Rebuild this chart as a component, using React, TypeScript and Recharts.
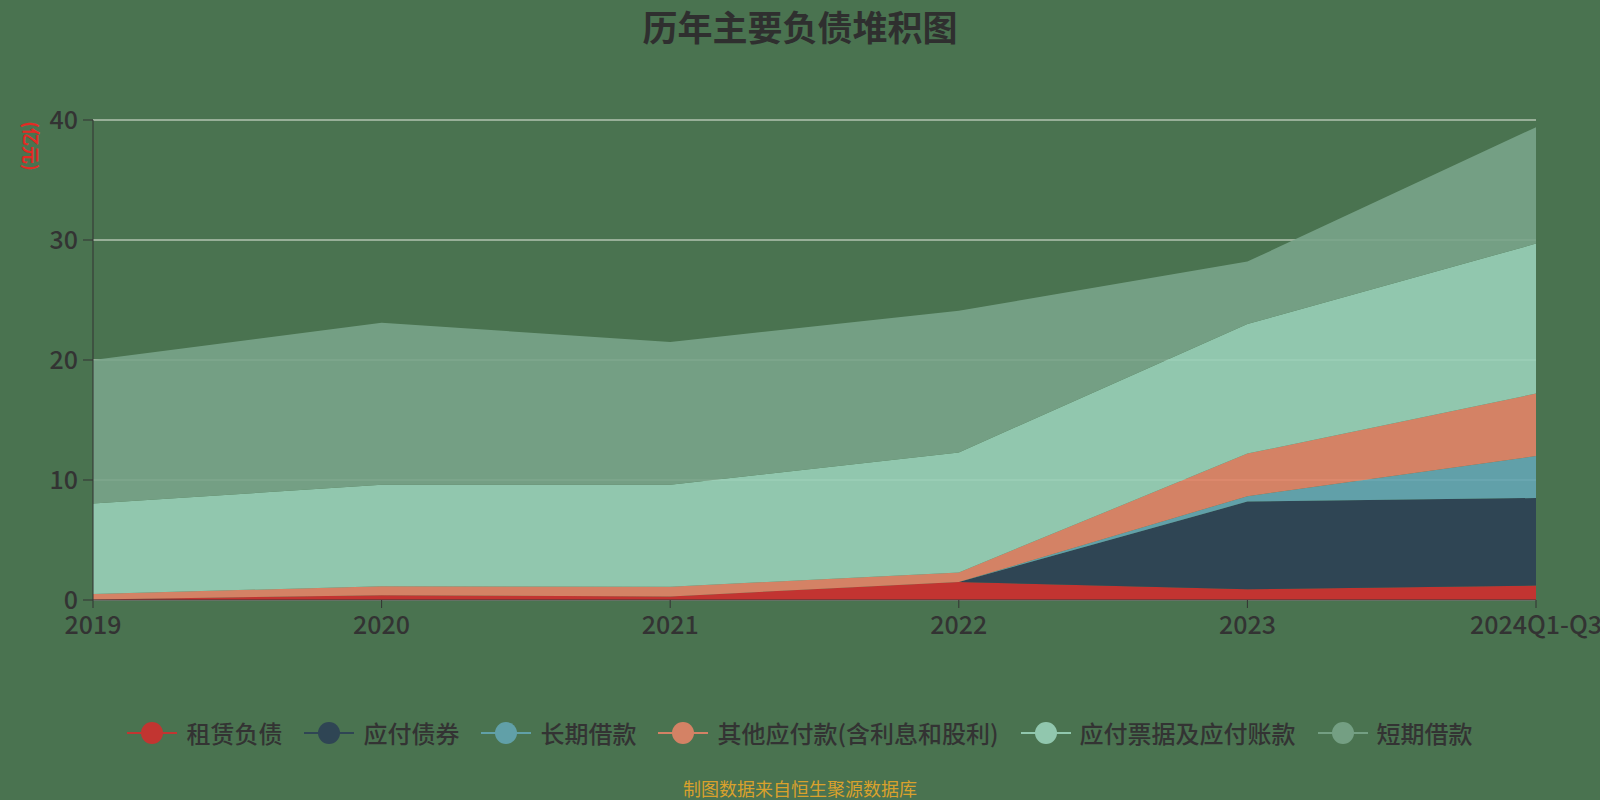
import React from 'react';
import { AreaChart, Area, XAxis, YAxis, CartesianGrid } from 'recharts';

// 单位：亿元
const years = ['2019', '2020', '2021', '2022', '2023', '2024Q1-Q3'];
const leaseLiabilities = [0.05, 0.4, 0.3, 1.5, 0.9, 1.2];
const bondsPayable = [0, 0, 0, 0, 7.3, 7.3];
const longTermLoans = [0, 0, 0, 0, 0.45, 3.5];
const otherPayables = [0.45, 0.75, 0.8, 0.8, 3.55, 5.2];
const notesAndAccountsPayable = [7.55, 8.45, 8.5, 10.0, 10.8, 12.5];
const shortTermLoans = [11.95, 13.5, 11.9, 11.8, 5.2, 9.7];
const yTicks = [0, 10, 20, 30, 40];

const series = [
  { key: 'lease', name: '租赁负债', values: leaseLiabilities, color: '#c23531', fill: '#cf2e2e' },
  { key: 'bonds', name: '应付债券', values: bondsPayable, color: '#2f4554', fill: '#2c4054' },
  { key: 'longLoan', name: '长期借款', values: longTermLoans, color: '#61a0a8', fill: '#64a5b2' },
  { key: 'other', name: '其他应付款(含利息和股利)', values: otherPayables, color: '#d48265', fill: '#e38467' },
  { key: 'notes', name: '应付票据及应付账款', values: notesAndAccountsPayable, color: '#91c7ae', fill: '#99d0b8' },
  { key: 'shortLoan', name: '短期借款', values: shortTermLoans, color: '#749f83', fill: '#79a489' },
];

const data = years.map((year, i) => {
  const row: Record<string, string | number> = { year };
  series.forEach(s => { row[s.key] = s.values[i]; });
  return row;
});

const FONT = '"Noto Sans CJK SC", "Noto Sans", sans-serif';
const BG = '#4a7350';

export default function App() {
  return (
    <div style={{ position: 'relative', width: 1600, height: 800, background: BG, fontFamily: FONT, overflow: 'hidden' }}>
      <style>{'body{margin:0}'}</style>

      {/* title */}
      <div style={{ position: 'absolute', top: 4, left: 0, width: 1600, textAlign: 'center', fontSize: 35, fontWeight: 'bold', color: '#2f2f2f', lineHeight: '44px' }}>
        历年主要负债堆积图
      </div>

      {/* unit label */}
      <div style={{ position: 'absolute', left: 32, top: 146, transform: 'translate(-50%, -50%) rotate(90deg)', color: '#e42a24', fontSize: 18, fontWeight: 'bold', whiteSpace: 'nowrap' }}>
        (亿元)
      </div>

      <div style={{ position: 'absolute', left: 0, top: 0 }}>
        <AreaChart width={1600} height={800} data={data} margin={{ top: 120, right: 64, bottom: 160, left: 33 }}>
          <CartesianGrid vertical={false} stroke="#e6ebe0" strokeWidth={1.2} />
          <XAxis
            dataKey="year"
            interval={0}
            height={40}
            stroke="#333"
            tickSize={8}
            tickMargin={8}
            tick={{ fontSize: 25, fill: '#333', fontFamily: FONT, fontWeight: 500 }}
          />
          <YAxis
            type="number"
            domain={[0, 40]}
            ticks={yTicks}
            width={60}
            stroke="#333"
            tickSize={10}
            tickMargin={5}
            tick={{ fontSize: 25, fill: '#333', fontFamily: FONT, fontWeight: 500 }}
          />
          {series.map(s => (
            <Area
              key={s.key}
              type="linear"
              dataKey={s.key}
              name={s.name}
              stackId="debt"
              stroke="none"
              fill={s.fill}
              fillOpacity={0.9}
              dot={false}
              activeDot={false}
              isAnimationActive={false}
            />
          ))}
        </AreaChart>
      </div>

      {/* legend */}
      <div style={{ position: 'absolute', top: 716, left: 0, width: 1600, display: 'flex', justifyContent: 'center', alignItems: 'center', gap: 22 }}>
        {series.map(s => (
          <div key={s.key} style={{ display: 'flex', alignItems: 'center' }}>
            <svg width={50} height={26} style={{ marginRight: 9 }}>
              <line x1={0} y1={13} x2={50} y2={13} stroke={s.color} strokeWidth={2} />
              <circle cx={25} cy={13} r={11} fill={s.color} />
            </svg>
            <span style={{ fontSize: 24, fontWeight: 500, color: '#333', lineHeight: '34px', whiteSpace: 'nowrap' }}>{s.name}</span>
          </div>
        ))}
      </div>

      {/* source */}
      <div style={{ position: 'absolute', top: 778, left: 0, width: 1600, textAlign: 'center', fontSize: 18, color: '#d9a12c', lineHeight: '20px' }}>
        制图数据来自恒生聚源数据库
      </div>
    </div>
  );
}
